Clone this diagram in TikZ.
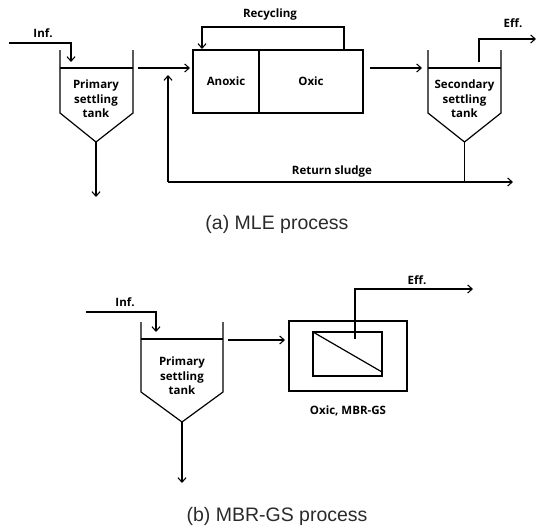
\documentclass[tikz,border=0pt]{standalone}
\usepackage{fontspec}
\setmainfont{Open Sans}
\newfontfamily\capfont{Liberation Sans}
\usetikzlibrary{arrows.meta}
\definecolor{capgray}{HTML}{2A2A2A}
\tikzset{
  pipe/.style={line width=1.2pt},
  flow/.style={pipe,-{Straight Barb[length=4.5pt,width=8pt,line width=1.1pt]}},
  tankline/.style={line width=1.2pt},
  lbl/.style={font=\fontsize{11.5}{14.5}\selectfont\bfseries, inner sep=0pt, align=center},
  captext/.style={font=\capfont\fontsize{19.5}{21}\selectfont, text=capgray, inner sep=0pt}
}
\begin{document}
\begin{tikzpicture}[x=1pt,y=-1pt]
\useasboundingbox (0,0) rectangle (539,530);
% ===== (a) MLE =====
% primary tank
\draw[tankline] (60,50) -- (60,113) -- (96,142) coordinate (pa) -- (133,113) -- (133,50);
\draw[tankline] (60,68) -- (133,68);
\node[lbl] (ptA) at (96,99) {Primary\\settling\\tank};
\coordinate (infA0) at (9,43);
\coordinate (infA1) at (71,62);
\draw[flow] (infA0) -| (infA1);
\node[lbl] (infAl) at (43,33) {Inf.};
\coordinate (paout) at (96,197);
\draw[flow] (pa) -- (paout);
% reactor
\draw[tankline] (193,50) rectangle (363,113);
\draw[tankline] (259,50) -- (259,113);
\node[lbl] (anox) at (226,81) {Anoxic};
\node[lbl] (oxic) at (311,81) {Oxic};
\coordinate (a1) at (138,68);
\coordinate (a2) at (190,68);
\draw[flow] (a1) -- (a2);
% recycling
\coordinate (r0) at (344,50);
\coordinate (r1) at (344,27);
\coordinate (r2) at (202,49);
\draw[flow] (r0) -- (r1) -| (r2);
\node[lbl] (recl) at (270,15) {Recycling};
% to secondary
\coordinate (b1) at (370,68);
\coordinate (b2) at (422,68);
\draw[flow] (b1) -- (b2);
% secondary tank
\draw[tankline] (428,50) -- (428,113) -- (464.5,142) coordinate (sa) -- (501,113) -- (501,50);
\draw[tankline] (428,68) -- (501,68);
\node[lbl] (stA) at (464.5,99) {Secondary\\settling\\tank};
% effluent
\coordinate (e0) at (479,62);
\coordinate (e1) at (479,39);
\coordinate (e2) at (536,39);
\draw[flow] (e0) -- (e1) -- (e2);
\node[lbl] (effA) at (513,23) {Eff.};
% return sludge
\coordinate (j) at (464.5,182);
\coordinate (rsl) at (168,182);
\coordinate (rsu) at (168,75);
\coordinate (rsr) at (513,182);
\draw[pipe] (sa) -- (j);
\draw[flow] (rsl) -- (rsr);
\draw[flow] (rsl) -- (rsu);
\node[lbl] (rsll) at (332,172) {Return sludge};
\node[captext] (capa) at (277,224) {(a) MLE process};
% ===== (b) MBR-GS =====
\draw[tankline] (141,322) -- (141,392) -- (182,422) coordinate (pb) -- (223,392) -- (223,322);
\draw[tankline] (141,339) -- (223,339);
\node[lbl] (ptB) at (182,376) {Primary\\settling\\tank};
\coordinate (infB0) at (86,312);
\coordinate (infB1) at (156,332);
\draw[flow] (infB0) -| (infB1);
\node[lbl] (infBl) at (125,302) {Inf.};
\coordinate (pbout) at (182,483);
\draw[flow] (pb) -- (pbout);
\coordinate (c1) at (228,340);
\coordinate (c2) at (285,340);
\draw[flow] (c1) -- (c2);
\draw[tankline] (289,321) rectangle (407,391);
\draw[tankline] (313,332) rectangle (382,376);
\draw[tankline] (313,332) -- (382,372);
\coordinate (f0) at (355,339);
\coordinate (f1) at (355,289);
\coordinate (f2) at (473,289);
\draw[flow] (f0) -- (f1) -- (f2);
\node[lbl] (effB) at (417,280) {Eff.};
\node[lbl] (mbrl) at (348,411) {Oxic, MBR-GS};
\node[captext] (capb) at (277,516) {(b) MBR-GS process};
\end{tikzpicture}
\end{document}
